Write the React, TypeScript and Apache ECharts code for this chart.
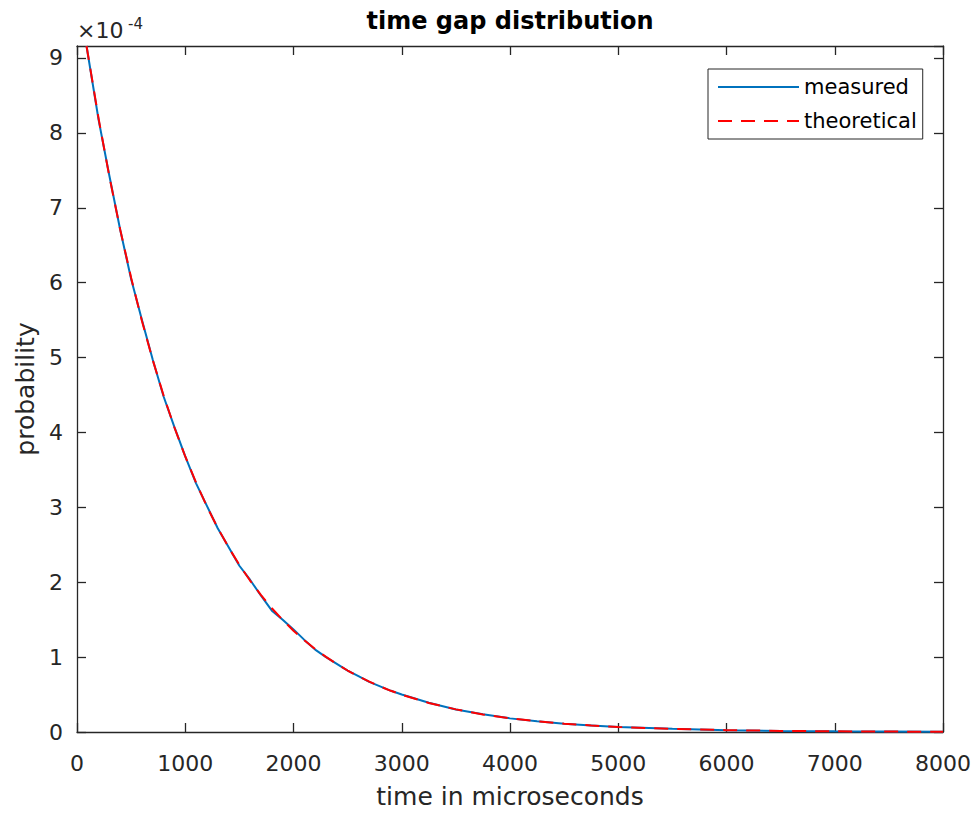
import React, { useEffect, useRef } from "react";
import * as echarts from "echarts";

// time in microseconds
const times = [
  88, 200, 300, 400, 500, 600, 700, 800, 900, 1000,
  1100, 1200, 1300, 1400, 1500, 1600, 1700, 1800, 1900, 2000,
  2100, 2200, 2300, 2400, 2500, 2600, 2700, 2800, 2900, 3000,
  3250, 3500, 3750, 4000, 4250, 4500, 4750, 5000, 5500, 6000,
  6500, 7000, 7500, 8000,
];

const measured = [
  9.16e-4, 8.17e-4, 7.42e-4, 6.7e-4, 6.05e-4, 5.5e-4, 4.97e-4, 4.48e-4, 4.07e-4, 3.68e-4,
  3.32e-4, 3.02e-4, 2.72e-4, 2.47e-4, 2.22e-4, 2.03e-4, 1.82e-4, 1.62e-4, 1.5e-4, 1.37e-4,
  1.23e-4, 1.1e-4, 1.0e-4, 0.91e-4, 0.82e-4, 0.745e-4, 0.67e-4, 0.61e-4, 0.55e-4, 0.5e-4,
  0.39e-4, 0.3e-4, 0.237e-4, 0.182e-4, 0.145e-4, 0.11e-4, 0.088e-4, 0.066e-4, 0.042e-4, 0.024e-4,
  0.015e-4, 0.009e-4, 0.006e-4, 0.003e-4,
];

const theoretical = [
  9.16e-4, 8.187e-4, 7.408e-4, 6.703e-4, 6.065e-4, 5.488e-4, 4.966e-4, 4.493e-4, 4.066e-4, 3.679e-4,
  3.329e-4, 3.012e-4, 2.725e-4, 2.466e-4, 2.231e-4, 2.019e-4, 1.827e-4, 1.653e-4, 1.496e-4, 1.353e-4,
  1.225e-4, 1.108e-4, 1.003e-4, 0.907e-4, 0.821e-4, 0.743e-4, 0.672e-4, 0.608e-4, 0.55e-4, 0.498e-4,
  0.388e-4, 0.302e-4, 0.235e-4, 0.183e-4, 0.143e-4, 0.111e-4, 0.087e-4, 0.067e-4, 0.041e-4, 0.025e-4,
  0.015e-4, 0.009e-4, 0.006e-4, 0.003e-4,
];

const xMin = 0;
const xMax = 8000;
const xStep = 1000;
const yMin = 0;
const yMax = 9.16e-4;
const yStep = 1e-4;

export default function App() {
  const ref = useRef<HTMLDivElement>(null);

  useEffect(() => {
    if (!ref.current) return;
    const chart = echarts.init(ref.current, null, { renderer: "svg" });
    const font = "DejaVu Sans";
    const axisColor = "#262626";
    const axisLine = { show: true, onZero: false, lineStyle: { color: axisColor, width: 1.3 } };
    const axisTick = { show: true, inside: true, length: 9, lineStyle: { color: axisColor, width: 1.3 } };

    chart.setOption({
      animation: false,
      backgroundColor: "#ffffff",
      title: {
        text: "time gap distribution",
        left: 510,
        top: 9,
        textAlign: "center",
        padding: 0,
        textStyle: { fontFamily: font, fontSize: 24, fontWeight: "bold", color: "#000000" },
      },
      legend: {
        orient: "vertical",
        left: 708,
        top: 69,
        padding: [7.5, 6, 7.5, 9],
        itemWidth: 81,
        itemHeight: 14,
        itemGap: 13,
        borderColor: axisColor,
        borderWidth: 1,
        borderRadius: 0,
        backgroundColor: "#ffffff",
        itemStyle: { opacity: 0 },
        textStyle: { fontFamily: font, fontSize: 21, color: "#000000" },
        data: ["measured", "theoretical"],
      },
      grid: { left: 77, right: 33, top: 46, bottom: 82, containLabel: false },
      xAxis: [
        {
          type: "value",
          position: "bottom",
          min: xMin,
          max: xMax,
          interval: xStep,
          axisLine,
          axisTick,
          splitLine: { show: false },
          axisLabel: {
            color: axisColor,
            fontFamily: font,
            fontSize: 22,
            margin: 20,
            formatter: (v: number) => String(Math.round(v)),
          },
          name: "time in microseconds",
          nameLocation: "middle",
          nameGap: 52,
          nameTextStyle: { color: axisColor, fontFamily: font, fontSize: 25 },
        },
        {
          type: "value",
          position: "top",
          min: xMin,
          max: xMax,
          interval: xStep,
          axisLine,
          axisTick,
          splitLine: { show: false },
          axisLabel: { show: false },
        },
      ],
      yAxis: [
        {
          type: "value",
          position: "left",
          min: yMin,
          max: yMax,
          interval: yStep,
          axisLine,
          axisTick,
          splitLine: { show: false },
          axisLabel: {
            color: axisColor,
            fontFamily: font,
            fontSize: 22,
            margin: 14,
            showMaxLabel: false,
            formatter: (v: number) => String(Math.round(v * 1e4)),
          },
          name: "probability",
          nameLocation: "middle",
          nameGap: 38,
          nameTextStyle: { color: axisColor, fontFamily: font, fontSize: 25 },
        },
        {
          type: "value",
          position: "right",
          min: yMin,
          max: yMax,
          interval: yStep,
          axisLine,
          axisTick,
          splitLine: { show: false },
          axisLabel: { show: false },
        },
      ],
      graphic: [
        {
          type: "text",
          x: 77,
          y: 30,
          style: { text: "×10", fontFamily: font, fontSize: 22, fill: axisColor, verticalAlign: "middle" },
        },
        {
          type: "text",
          x: 128,
          y: 24,
          style: { text: "-4", fontFamily: font, fontSize: 15, fill: axisColor, verticalAlign: "middle" },
        },
      ],
      series: [
        {
          name: "measured",
          type: "line",
          xAxisIndex: 0,
          yAxisIndex: 0,
          symbol: "none",
          showSymbol: false,
          data: times.map((t, i) => [t, measured[i]]),
          lineStyle: { color: "#0072BD", width: 2 },
          itemStyle: { color: "#0072BD" },
          z: 2,
        },
        {
          name: "theoretical",
          type: "line",
          xAxisIndex: 0,
          yAxisIndex: 0,
          symbol: "none",
          showSymbol: false,
          data: times.map((t, i) => [t, theoretical[i]]),
          lineStyle: { color: "#FF0000", width: 2, type: [14, 9] },
          itemStyle: { color: "#FF0000" },
          z: 3,
        },
      ],
    });

    return () => chart.dispose();
  }, []);

  return (
    <div
      ref={ref}
      style={{ position: "fixed", left: 0, top: 0, width: 976, height: 814, background: "#ffffff" }}
    />
  );
}
